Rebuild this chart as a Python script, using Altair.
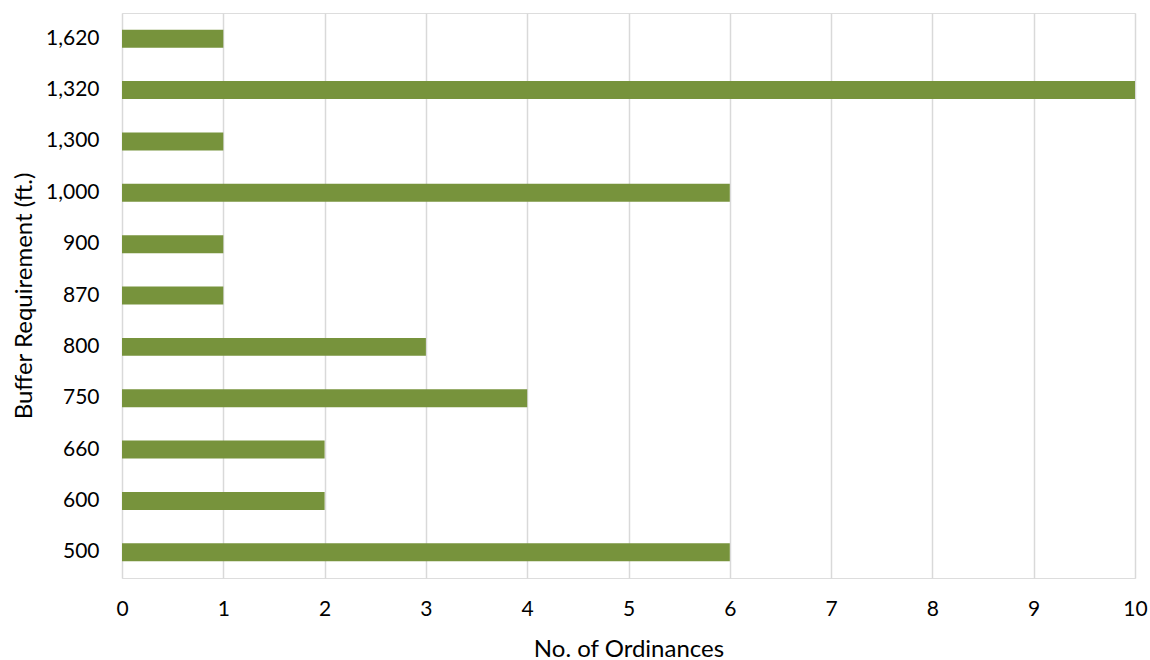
import altair as alt
import pandas as pd

# Buffer distances (ft.), listed top to bottom as drawn
buffers = ["1,620", "1,320", "1,300", "1,000", "900", "870", "800", "750", "660", "600", "500"]
counts = [1, 10, 1, 6, 1, 1, 3, 4, 2, 2, 6]

df = pd.DataFrame({"buffer": buffers, "count": counts})

FONT = "Lato"
LABEL_SIZE = 21
TITLE_SIZE = 24

chart = (
    alt.Chart(df)
    .mark_bar(color="#77933C")
    .encode(
        x=alt.X(
            "count:Q",
            title="No. of Ordinances",
            scale=alt.Scale(domain=[0, 10], nice=False),
            axis=alt.Axis(
                values=list(range(0, 11)),
                format="d",
                grid=True,
                gridColor="#d9d9d9",
                gridWidth=1.5,
                domain=False,
                ticks=False,
                labelFlush=False,
                labelPadding=20,
                labelFontSize=LABEL_SIZE,
                labelColor="#000000",
                titleFontSize=TITLE_SIZE,
                titleFontWeight="normal",
                titleColor="#000000",
                titlePadding=18,
                labelFont=FONT,
                titleFont=FONT,
            ),
        ),
        y=alt.Y(
            "buffer:N",
            title="Buffer Requirement (ft.)",
            sort=buffers,
            scale=alt.Scale(paddingInner=0.65, paddingOuter=0.325),
            axis=alt.Axis(
                grid=False,
                domain=False,
                ticks=False,
                labelPadding=23,
                labelFontSize=LABEL_SIZE,
                labelColor="#000000",
                titleFontSize=TITLE_SIZE,
                titleFontWeight="normal",
                titleColor="#000000",
                titlePadding=9,
                labelFont=FONT,
                titleFont=FONT,
            ),
        ),
    )
    .properties(
        width=1013,
        height=565,
        autosize=alt.AutoSizeParams(type="none"),
        padding={"left": 122, "top": 13, "right": 15, "bottom": 82},
    )
    .configure_view(stroke=None)
    .configure(background="#ffffff")
)

chart.save("out.html", embed_options={"renderer": "svg", "actions": False})
